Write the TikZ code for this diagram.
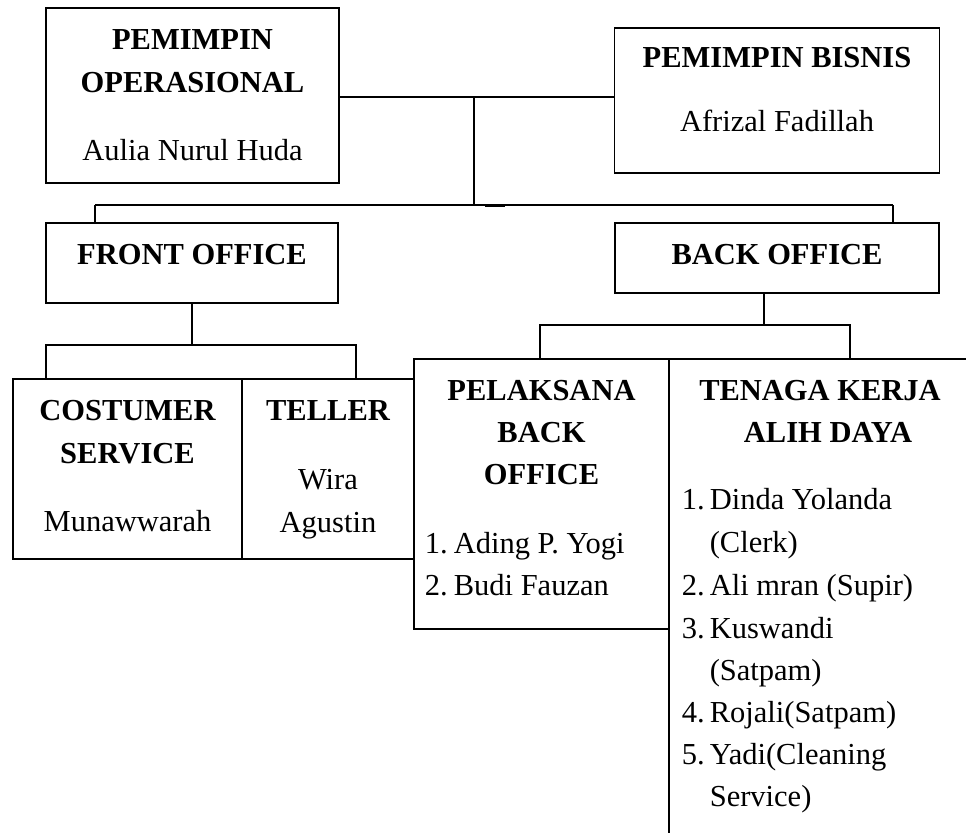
\documentclass[tikz,border=0pt]{standalone}
\usepackage{fontspec}
\setmainfont{Liberation Serif}
\begin{document}
\begin{tikzpicture}[x=1pt,y=-1pt,line width=1.6pt,
  box/.style={draw,line width=1.6pt,inner sep=0pt,outer sep=0pt},
  tb/.style={anchor=base,inner sep=0pt,font=\bfseries\fontsize{30.5}{40}\selectfont},
  tn/.style={anchor=base,inner sep=0pt,font=\fontsize{30.5}{40}\selectfont},
  tl/.style={anchor=base west,inner sep=0pt,font=\fontsize{30.5}{40}\selectfont},
  conn/.style={draw,line width=1.6pt}]
\useasboundingbox (0,0) rectangle (966,833);
% boxes
\node[box,minimum width=293pt,minimum height=175pt] (op) at (192.5,95.5) {};
\node[box,minimum width=325pt,minimum height=145pt] (bis) at (777,100.5) {};
\node[box,minimum width=292pt,minimum height=80pt] (front) at (192,263) {};
\node[box,minimum width=324pt,minimum height=70pt] (back) at (777,258) {};
\node[box,minimum width=229pt,minimum height=180pt] (cs) at (127.5,469) {};
\node[box,minimum width=172pt,minimum height=180pt] (tel) at (328,469) {};
\node[box,minimum width=255pt,minimum height=270pt] (pel) at (541.5,494) {};
\coordinate (tk) at (669,359);
\coordinate (tkR) at (966,359);
\coordinate (tkB) at (669,833);
\draw[conn] (tkR) -- (tk) -- (tkB);
% texts
\node[tb] (t1) at (192.5,49) {PEMIMPIN};
\node[tb] (t2) at (192.5,92) {OPERASIONAL};
\node[tn] (t3) at (192.5,160) {Aulia Nurul Huda};
\node[tb] (t4) at (777,67) {PEMIMPIN BISNIS};
\node[tn] (t5) at (777,131) {Afrizal Fadillah};
\node[tb] (t6) at (192,264) {FRONT OFFICE};
\node[tb] (t7) at (777,264) {BACK OFFICE};
\node[tb] (t8) at (127.5,420) {COSTUMER};
\node[tb] (t9) at (127.5,463) {SERVICE};
\node[tn] (t10) at (127.5,531) {Munawwarah};
\node[tb] (t11) at (328,420) {TELLER};
\node[tn] (t12) at (328,489) {Wira};
\node[tn] (t13) at (328,532) {Agustin};
\node[tb] (t14) at (541.5,400) {PELAKSANA};
\node[tb] (t15) at (541.5,442) {BACK};
\node[tb] (t16) at (541.5,484) {OFFICE};
\node[tl] (n1) at (424,553) {1.};
\node[tl] (l1) at (453,553) {Ading P. Yogi};
\node[tl] (n2) at (424,595) {2.};
\node[tl] (l2) at (453,595) {Budi Fauzan};
\node[tb] (t17) at (820,400) {TENAGA KERJA};
\node[tb] (t18) at (828,442) {ALIH DAYA};
\node[tl] (m1) at (681,509) {1.};
\node[tl] (k1) at (709,509) {Dinda Yolanda};
\node[tl] (k1b) at (709,552) {(Clerk)};
\node[tl] (m2) at (681,595) {2.};
\node[tl] (k2) at (709,595) {Ali mran (Supir)};
\node[tl] (m3) at (681,638) {3.};
\node[tl] (k3) at (709,638) {Kuswandi};
\node[tl] (k3b) at (709,680) {(Satpam)};
\node[tl] (m4) at (681,722) {4.};
\node[tl] (k4) at (709,722) {Rojali(Satpam)};
\node[tl] (m5) at (681,764) {5.};
\node[tl] (k5) at (709,764) {Yadi(Cleaning};
\node[tl] (k5b) at (709,806) {Service)};
% connectors
\coordinate (j1) at (474,97);
\coordinate (j2) at (474,205);
\coordinate (fL) at (95,205);
\coordinate (fR) at (893,205);
\draw[conn] (op.east |- j1) -- (bis.west |- j1);
\draw[conn] (j1) -- (j2);
\draw[conn] (fL) -- (fR);
\draw[line width=3pt] (485,205) -- (505,205);
\draw[conn] (fL) -- (fL |- front.north);
\draw[conn] (fR) -- (fR |- back.north);
\coordinate (fa) at (188,345);
\coordinate (fa1) at (46,345);
\coordinate (fa2) at (356,345);
\draw[conn] (fa -| front.south) -- (front.south);
\draw[conn] (fa1 |- cs.north) -- (fa1) -- (fa2) -- (fa2 |- tel.north);
\coordinate (ba) at (764,325);
\coordinate (ba1) at (540,325);
\coordinate (ba2) at (850,325);
\draw[conn] (ba |- back.south) -- (ba);
\draw[conn] (ba1 |- pel.north) -- (ba1) -- (ba2) -- (ba2 |- tk);
\end{tikzpicture}
\end{document}
